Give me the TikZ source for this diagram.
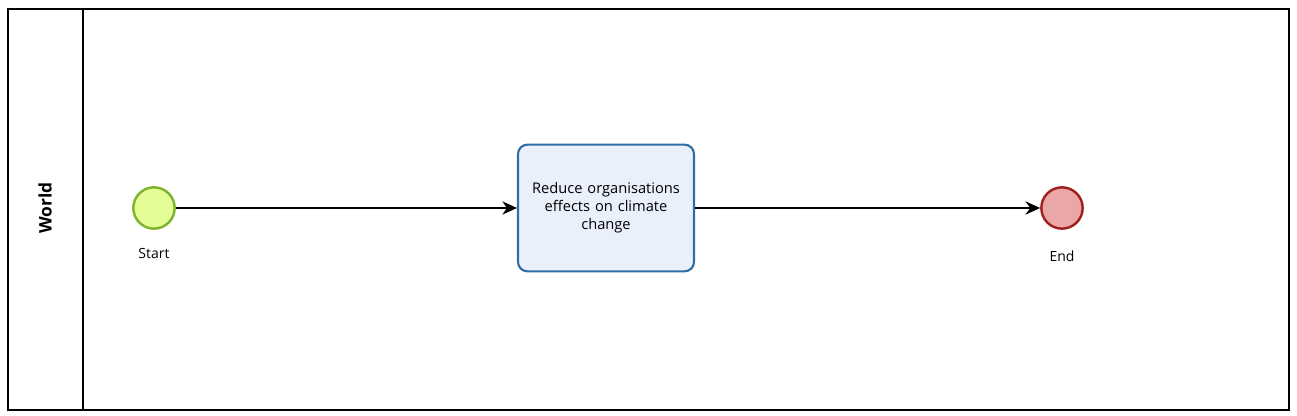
\documentclass[tikz,border=0pt]{standalone}
\usepackage{fontspec}
\setmainfont{Open Sans}
\usepackage{tikz}
\usetikzlibrary{shapes,arrows.meta,positioning,calc}

\definecolor{startfill}{HTML}{E4FD97}
\definecolor{startline}{HTML}{7CB529}
\definecolor{taskfill}{HTML}{EAEFFC}
\definecolor{taskline}{HTML}{2F6FA5}
\definecolor{endfill}{HTML}{EAA7A7}
\definecolor{endline}{HTML}{A01E1E}

\begin{document}
\begin{tikzpicture}[
    x=0.75pt, y=-0.75pt,
    event/.style={circle, draw, line width=1.8pt, minimum size=31pt, inner sep=0pt},
    task/.style={rectangle, draw=taskline, fill=taskfill, line width=1.6pt, rounded corners=7pt, minimum width=132pt, minimum height=95pt, text width=124pt, align=center, font=\fontsize{11}{13.5}\selectfont},
    label/.style={font=\fontsize{10.5}{12}\selectfont},
    arrow/.style={-{Stealth[length=11pt, width=10pt]}, line width=0.9pt}
]
    % Page
    \useasboundingbox[fill=white] (0,0) rectangle (1297,416);

    % Pool and lane
    \draw[line width=0.8pt] (8,9) rectangle (1289,410);
    \draw[line width=0.8pt] (83,9) -- (83,410);
    \node[rotate=90, font=\bfseries\fontsize{13}{15}\selectfont] (lane) at (45,208) {World};

    % Start event
    \node[event, draw=startline, fill=startfill] (start) at (154,208) {};
    \node[label, below=10pt of start] (start_label) {Start};

    % Task
    \node[task] (reduce) at (606,208) {Reduce organisations\\effects on climate\\change};

    % End event
    \node[event, draw=endline, fill=endfill] (end) at (1062,208) {};
    \node[label, below=12.5pt of end] (end_label) {End};

    % Sequence flows
    \draw[arrow] (start) -- (reduce);
    \draw[arrow] (reduce) -- (end);

\end{tikzpicture}
\end{document}
